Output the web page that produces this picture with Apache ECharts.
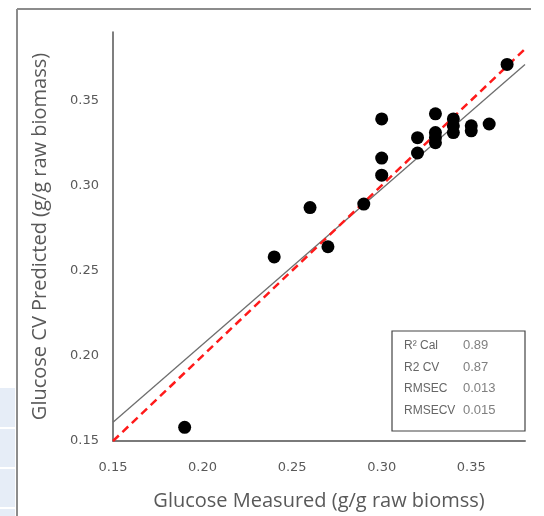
<!DOCTYPE html>
<html>
<head>
<meta charset="utf-8">
<script src="https://cdn.jsdelivr.net/npm/echarts@6/dist/echarts.min.js"></script>
<style>
  html, body { margin: 0; padding: 0; background: #fff; }
  #chart { width: 544px; height: 516px; }
</style>
</head>
<body>
<div id="chart"></div>
<script>
// Measured vs cross-validated predicted glucose (g/g raw biomass)
const measured = [0.19, 0.24, 0.26, 0.27, 0.29, 0.30, 0.30, 0.30, 0.32, 0.32, 0.33,
                  0.33, 0.33, 0.33, 0.34, 0.34, 0.34, 0.35, 0.35, 0.36, 0.37];
const predicted = [0.158, 0.258, 0.287, 0.264, 0.289, 0.339, 0.316, 0.306, 0.328, 0.319, 0.342,
                   0.331, 0.328, 0.325, 0.339, 0.335, 0.331, 0.335, 0.332, 0.336, 0.371];

// Least-squares fit of predicted on measured
const fitSlope = 0.913;
const fitIntercept = 0.024;

// Axis ranges
const xRange = [0.15, 0.38];
const yRange = [0.15, 0.39];
const tickStep = 0.05;

// Model statistics
const statLabels = ['R\u00B2 Cal', 'R2 CV', 'RMSEC', 'RMSECV'];
const statValues = ['0.89', '0.87', '0.013', '0.015'];

const points = measured.map((m, i) => [m, predicted[i]]);
const fitLine = xRange.map(x => [x, fitSlope * x + fitIntercept]);
const identityLine = xRange.map(x => [x, x]);

const textGrey = '#595959';
const tickFont = { fontFamily: 'DejaVu Sans', fontSize: 13, color: textGrey };
const titleFont = { fontFamily: 'Open Sans', fontSize: 20, color: textGrey };

const statTexts = [];
statLabels.forEach((lab, i) => {
  statTexts.push({ type: 'text', left: 404, top: 340 + i * 21.5, z: 11,
    style: { text: lab, font: '12px "Liberation Sans"', fill: '#666' } });
  statTexts.push({ type: 'text', left: 463, top: 339 + i * 21.5, z: 11,
    style: { text: statValues[i], font: '13px "Liberation Sans"', fill: '#808080' } });
});

const chart = echarts.init(document.getElementById('chart'), null, { renderer: 'canvas' });
chart.setOption({
  animation: false,
  backgroundColor: '#fff',
  grid: { left: 113, top: 32, right: 19, bottom: 72, containLabel: false },
  xAxis: {
    type: 'value', min: xRange[0], max: xRange[1], interval: tickStep,
    axisLine: { lineStyle: { color: '#7a7a7a', width: 2 } },
    axisTick: { show: false }, splitLine: { show: false },
    axisLabel: Object.assign({ margin: 20, showMaxLabel: false, formatter: v => v.toFixed(2) }, tickFont),
    name: 'Glucose Measured (g/g raw biomss)', nameLocation: 'middle', nameGap: 50,
    nameTextStyle: titleFont
  },
  yAxis: {
    type: 'value', min: yRange[0], max: yRange[1], interval: tickStep,
    axisLine: { lineStyle: { color: '#555', width: 1.5 } },
    axisTick: { show: false }, splitLine: { show: false },
    axisLabel: Object.assign({ margin: 14, showMaxLabel: false, formatter: v => v.toFixed(2) }, tickFont),
    name: 'Glucose CV Predicted (g/g raw biomass)', nameLocation: 'middle', nameGap: 63,
    nameTextStyle: titleFont
  },
  series: [
    {
      type: 'line', data: fitLine, symbol: 'none', silent: true,
      lineStyle: { color: '#6e6e6e', width: 1.3 }, z: 2
    },
    {
      type: 'line', data: identityLine, symbol: 'none', silent: true,
      lineStyle: { color: '#ff1a1a', width: 2.5, type: [8, 5] }, z: 3
    },
    {
      type: 'scatter', data: points, symbol: 'circle', symbolSize: 13,
      itemStyle: { color: '#000', opacity: 1 }, z: 4
    }
  ],
  graphic: [
    // surrounding frame
    { type: 'line', shape: { x1: 17, y1: 9, x2: 531, y2: 9 },
      style: { stroke: '#8c8c8c', lineWidth: 2 } },
    { type: 'line', shape: { x1: 17, y1: 9, x2: 17, y2: 516 },
      style: { stroke: '#8c8c8c', lineWidth: 2 } },
    // table cells at the left margin
    { type: 'rect', shape: { x: 0, y: 388, width: 15, height: 39 }, style: { fill: '#e6edf7' } },
    { type: 'rect', shape: { x: 0, y: 429, width: 15, height: 38 }, style: { fill: '#e6edf7' } },
    { type: 'rect', shape: { x: 0, y: 469, width: 15, height: 38 }, style: { fill: '#e6edf7' } },
    { type: 'rect', shape: { x: 0, y: 509, width: 15, height: 7 }, style: { fill: '#e6edf7' } },
    // statistics box
    { type: 'rect', shape: { x: 392, y: 331, width: 133, height: 100 },
      style: { fill: '#fff', stroke: '#444', lineWidth: 1.2 }, z: 10 },
    ...statTexts
  ]
});
</script>
</body>
</html>
